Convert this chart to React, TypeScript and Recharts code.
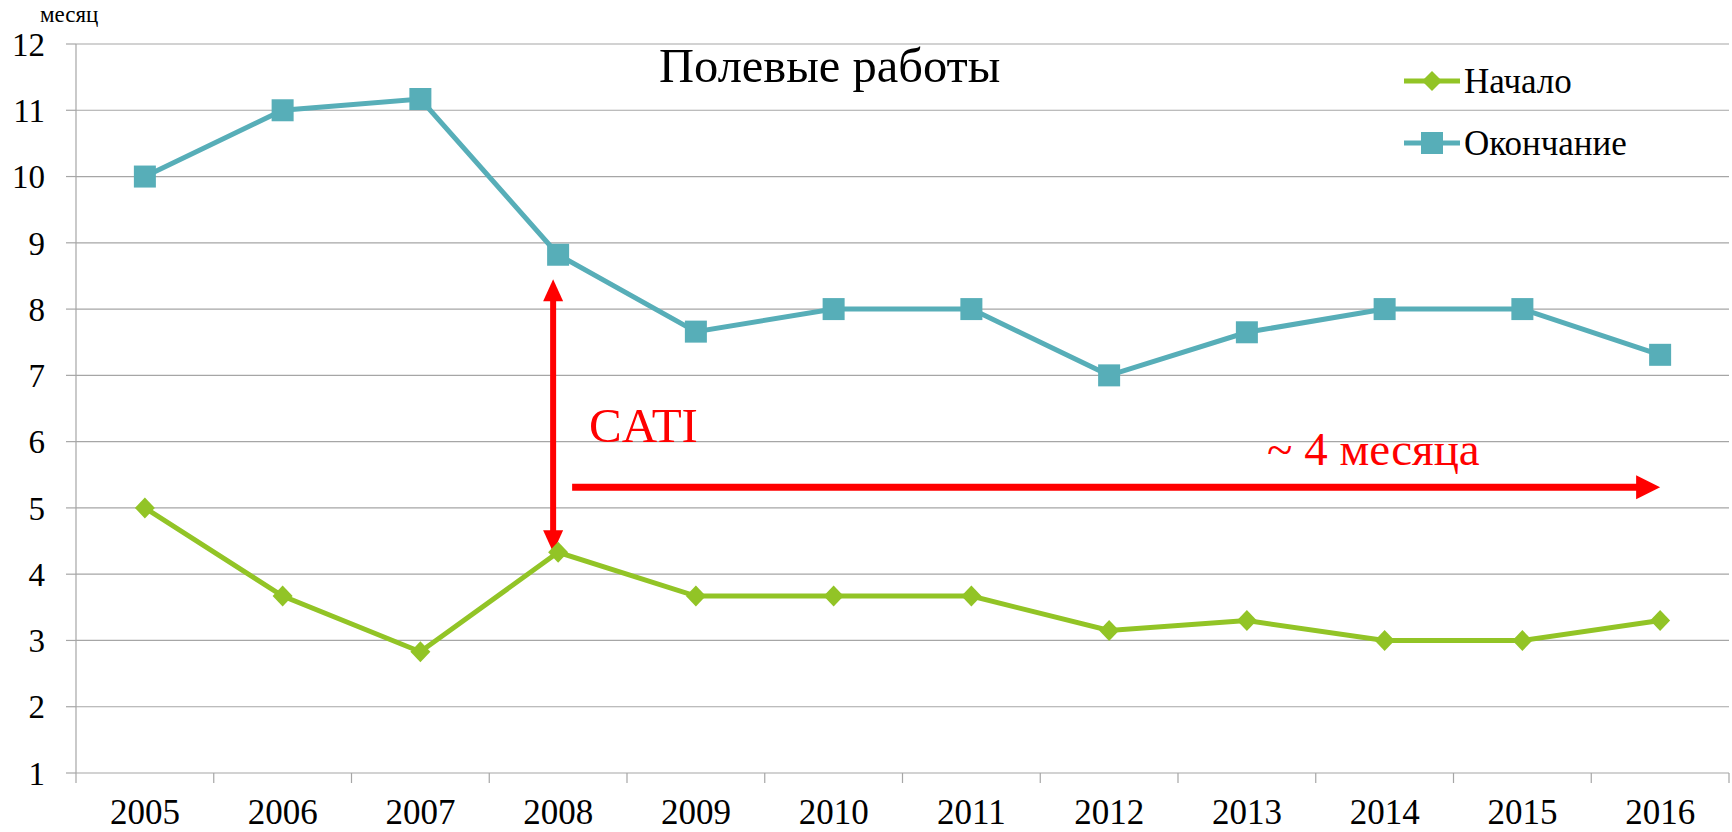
import { CartesianGrid, Legend, Line, LineChart, ReferenceLine, XAxis, YAxis } from "recharts";

const years = ["2005", "2006", "2007", "2008", "2009", "2010", "2011", "2012", "2013", "2014", "2015", "2016"];
const startMonth = [5, 3.67, 2.83, 4.33, 3.67, 3.67, 3.67, 3.15, 3.3, 3, 3, 3.3];
const endMonth = [10, 11, 11.17, 8.82, 7.66, 8, 8, 7, 7.65, 8, 8, 7.31];
const yTicks = [1, 2, 3, 4, 5, 6, 7, 8, 9, 10, 11, 12];

// annotation arrows (in data units)
const catiSpan = { year: "2008", from: 8.45, to: 4.33 };
const shiftSpan = { from: "2008", to: "2016", level: 5.31 };

const GREEN = "#92C426";
const TEAL = "#57AEB8";
const GRID = "#A6A6A6";
const RED = "#FF0000";
const FONT = "Liberation Serif, Times New Roman, serif";
const X_TICK_MARGIN = 26;

const data = years.map((year, i) => ({ year, start: startMonth[i], end: endMonth[i] }));

function SquareDot(props: any) {
  const { cx, cy } = props;
  if (cx == null || cy == null) return null;
  return <rect x={cx - 11} y={cy - 11} width={22} height={22} fill={TEAL} />;
}

function DiamondDot(props: any) {
  const { cx, cy } = props;
  if (cx == null || cy == null) return null;
  return <polygon points={`${cx},${cy - 10.5} ${cx + 10},${cy} ${cx},${cy + 10.5} ${cx - 10},${cy}`} fill={GREEN} />;
}

// category label plus Excel-style tick marks between categories
function YearTick(props: any) {
  const { x, y, payload, index, visibleTicksCount } = props;
  const half = payload?.offset ?? 0;
  const axisY = y - X_TICK_MARGIN;
  const last = index === (visibleTicksCount ?? years.length) - 1;
  return (
    <g>
      <line x1={x - half} y1={axisY} x2={x - half} y2={axisY + 10} stroke={GRID} strokeWidth={1.2} />
      {last && <line x1={x + half} y1={axisY} x2={x + half} y2={axisY + 10} stroke={GRID} strokeWidth={1.2} />}
      <text x={x} y={y} dy="0.71em" textAnchor="middle" fontFamily={FONT} fontSize={35} fill="#000">
        {payload.value}
      </text>
    </g>
  );
}

function VerticalArrow(props: any) {
  const { x1, y1, y2 } = props;
  const x = x1 - 5;
  const head = 22;
  const half = 10;
  return (
    <g>
      <line x1={x} y1={y1 + head - 2} x2={x} y2={y2 - head + 2} stroke={RED} strokeWidth={6} />
      <polygon points={`${x},${y1} ${x + half},${y1 + head} ${x - half},${y1 + head}`} fill={RED} />
      <polygon points={`${x},${y2} ${x + half},${y2 - head} ${x - half},${y2 - head}`} fill={RED} />
    </g>
  );
}

function HorizontalArrow(props: any) {
  const { x1, y1, x2 } = props;
  const start = x1 + 14;
  const tip = x2;
  const head = 24;
  return (
    <g>
      <line x1={start} y1={y1} x2={tip - head + 2} y2={y1} stroke={RED} strokeWidth={7} />
      <polygon points={`${tip},${y1} ${tip - head},${y1 - 12} ${tip - head},${y1 + 12}`} fill={RED} />
    </g>
  );
}

function LegendContent() {
  const rows = [
    { name: "Начало", color: GREEN, marker: "diamond" },
    { name: "Окончание", color: TEAL, marker: "square" },
  ];
  return (
    <div>
      {rows.map((r) => (
        <div key={r.name} style={{ display: "flex", alignItems: "center", height: 62 }}>
          <svg width={56} height={24} style={{ display: "block" }}>
            <line x1={0} y1={12} x2={56} y2={12} stroke={r.color} strokeWidth={5} strokeLinecap="round" />
            {r.marker === "square" ? (
              <rect x={17} y={1} width={22} height={22} fill={r.color} />
            ) : (
              <polygon points="28,2 38,12 28,22 18,12" fill={r.color} />
            )}
          </svg>
          <span style={{ marginLeft: 4, fontFamily: FONT, fontSize: 35, color: "#000", lineHeight: 1 }}>{r.name}</span>
        </div>
      ))}
    </div>
  );
}

export default function App() {
  return (
    <div
      style={{
        position: "absolute",
        left: 0,
        top: 0,
        width: 1732,
        height: 832,
        background: "#fff",
        fontFamily: FONT,
      }}
    >
      <LineChart width={1732} height={832} data={data} margin={{ top: 44, right: 3, bottom: 0, left: 0 }}>
        <CartesianGrid vertical={false} stroke={GRID} strokeWidth={1.2} />
        <XAxis
          dataKey="year"
          scale="band"
          height={59}
          tickSize={0}
          tickMargin={X_TICK_MARGIN}
          axisLine={false}
          tickLine={false}
          interval={0}
          tick={<YearTick />}
        />
        <YAxis
          type="number"
          domain={[1, 12]}
          ticks={yTicks}
          width={76}
          tickSize={10}
          tickMargin={21}
          interval={0}
          axisLine={{ stroke: GRID, strokeWidth: 1.2 }}
          tickLine={{ stroke: GRID, strokeWidth: 1.2 }}
          tick={{ fill: "#000", fontSize: 33, fontFamily: FONT }}
        />
        <Legend
          layout="vertical"
          align="center"
          verticalAlign="middle"
          content={LegendContent}
          wrapperStyle={{ position: "absolute", left: 1404, top: 50, width: 320, height: 124 }}
        />
        <Line
          dataKey="end"
          name="Окончание"
          stroke={TEAL}
          strokeWidth={5}
          dot={<SquareDot />}
          activeDot={false}
          isAnimationActive={false}
        />
        <Line
          dataKey="start"
          name="Начало"
          stroke={GREEN}
          strokeWidth={5}
          dot={<DiamondDot />}
          activeDot={false}
          isAnimationActive={false}
        />
        <ReferenceLine
          segment={[
            { x: catiSpan.year, y: catiSpan.from },
            { x: catiSpan.year, y: catiSpan.to },
          ]}
          shape={VerticalArrow}
        />
        <ReferenceLine
          segment={[
            { x: shiftSpan.from, y: shiftSpan.level },
            { x: shiftSpan.to, y: shiftSpan.level },
          ]}
          shape={HorizontalArrow}
        />
        <text x={40} y={22} fontFamily={FONT} fontSize={23} fill="#000">
          месяц
        </text>
        <text x={659} y={82} fontFamily={FONT} fontSize={48.5} fill="#000">
          Полевые работы
        </text>
        <text x={589} y={442} fontFamily={FONT} fontSize={49} fill={RED}>
          CATI
        </text>
        <text x={1267} y={465} fontFamily={FONT} fontSize={47} fill={RED}>
          ~ 4 месяца
        </text>
      </LineChart>
    </div>
  );
}
